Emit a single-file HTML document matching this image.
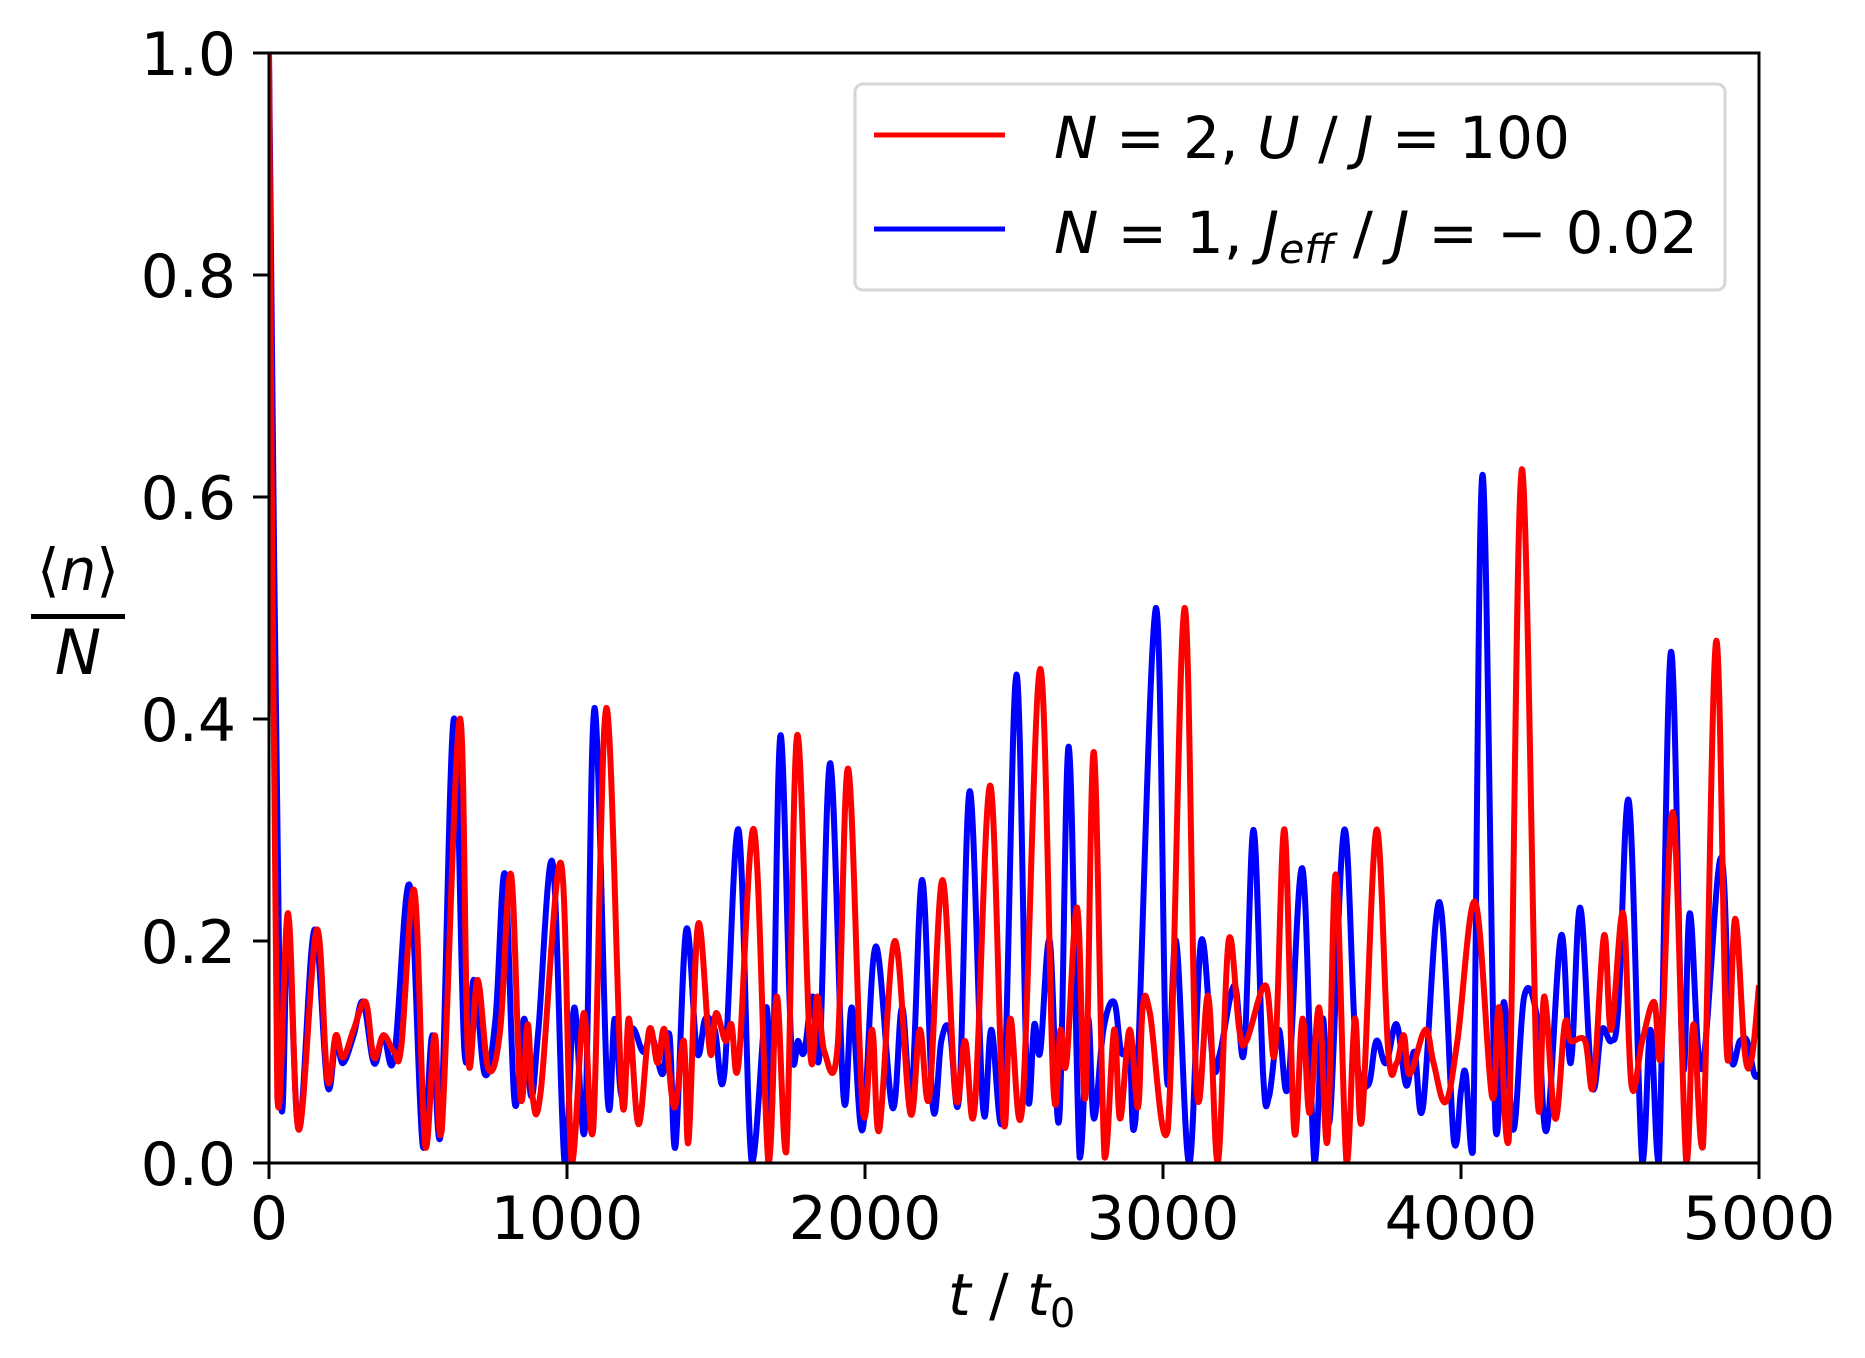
<!DOCTYPE html>
<html><head><meta charset="utf-8"><style>
html,body{margin:0;padding:0;background:#fff;}
svg{display:block;font-family:"DejaVu Sans","Liberation Sans",sans-serif;}
</style></head><body>
<svg id="chart" width="1865" height="1358" viewBox="0 0 1865 1358" xmlns="http://www.w3.org/2000/svg">
<rect width="1865" height="1358" fill="#fff"/>
<g id="series"></g>
<rect x="269" y="53" width="1490" height="1110" fill="none" stroke="#000" stroke-width="3"/>
<g id="xticks"></g>
<g id="yticks"></g>
<text x="948" y="1315" font-size="58"><tspan font-style="italic">t</tspan> / <tspan font-style="italic">t</tspan><tspan font-size="40" dy="12">0</tspan></text>
<g>
<text x="78" y="590" font-size="58" text-anchor="middle">⟨<tspan font-style="italic">n</tspan>⟩</text>
<rect x="31" y="614" width="94" height="5" fill="#000"/>
<text x="78" y="674" font-size="62" text-anchor="middle" font-style="italic">N</text>
</g>
<g>
<rect x="855" y="84" width="870" height="206" rx="8" fill="#fff" fill-opacity="0.8" stroke="#d6d6d6" stroke-width="3"/>
<g>
<line x1="874" y1="135" x2="1005" y2="135" stroke="#ff0000" stroke-width="5"/>
<text x="1054" y="158" font-size="58" textLength="516" lengthAdjust="spacingAndGlyphs"><tspan font-style="italic">N</tspan> = 2, <tspan font-style="italic">U</tspan> / <tspan font-style="italic">J</tspan> = 100</text>
</g>
<g>
<line x1="874" y1="229" x2="1005" y2="229" stroke="#0000ff" stroke-width="5"/>
<text x="1054" y="253" font-size="58" textLength="644" lengthAdjust="spacingAndGlyphs"><tspan font-style="italic">N</tspan> = 1, <tspan font-style="italic">J</tspan><tspan font-style="italic" font-size="40" dy="10">eff</tspan><tspan dy="-10"> / </tspan><tspan font-style="italic">J</tspan> = − 0.02</text>
</g>
</g>
</svg>
<script>
const xTicks=[0,1000,2000,3000,4000,5000];
const yTicks=[0,0.2,0.4,0.6,0.8,1.0];
const yTickLabels=["0.0","0.2","0.4","0.6","0.8","1.0"];
const redT=[0,28,64,100,160,196,224,248,284,324,352,384,420,444,488,524,556,580,640,668,700,736,776,812,844,868,884,912,980,1016,1056,1088,1132,1184,1208,1240,1276,1304,1328,1360,1392,1408,1440,1480,1500,1532,1552,1576,1628,1676,1704,1736,1772,1816,1840,1864,1908,1944,1992,2024,2048,2100,2152,2184,2216,2260,2304,2336,2368,2420,2464,2488,2528,2588,2632,2656,2676,2712,2740,2768,2804,2836,2856,2888,2916,2932,2956,3016,3072,3112,3152,3184,3220,3256,3280,3344,3376,3408,3440,3468,3492,3524,3552,3580,3616,3644,3668,3716,3756,3784,3808,3828,3880,3908,3948,3988,4048,4104,4128,4160,4204,4256,4280,4316,4348,4368,4416,4444,4480,4504,4544,4572,4608,4648,4672,4712,4756,4780,4812,4856,4892,4920,4952,4976,5000];
const redV=[1.0,0.06,0.225,0.03,0.21,0.075,0.115,0.095,0.12,0.145,0.095,0.115,0.1,0.105,0.245,0.015,0.115,0.03,0.40,0.095,0.165,0.085,0.12,0.26,0.06,0.125,0.06,0.065,0.27,0.0,0.135,0.03,0.41,0.06,0.13,0.035,0.12,0.09,0.12,0.05,0.11,0.02,0.215,0.1,0.135,0.11,0.125,0.09,0.30,0.0,0.15,0.01,0.385,0.1,0.15,0.1,0.105,0.355,0.05,0.12,0.03,0.2,0.045,0.12,0.06,0.255,0.06,0.11,0.05,0.34,0.04,0.13,0.05,0.445,0.07,0.12,0.09,0.23,0.06,0.37,0.005,0.12,0.04,0.12,0.05,0.14,0.135,0.03,0.50,0.07,0.15,0.0,0.2,0.12,0.11,0.16,0.1,0.3,0.03,0.13,0.045,0.14,0.02,0.26,0.0,0.13,0.04,0.30,0.1,0.09,0.115,0.08,0.12,0.09,0.055,0.11,0.235,0.06,0.14,0.02,0.625,0.06,0.15,0.04,0.125,0.11,0.11,0.07,0.205,0.12,0.225,0.07,0.11,0.145,0.1,0.315,0.0,0.125,0.015,0.47,0.1,0.22,0.1,0.095,0.16];
const blueT=[0,40,64,100,152,196,224,248,284,316,352,384,420,472,516,548,576,620,656,688,724,760,792,824,856,880,904,952,992,1024,1060,1092,1136,1160,1184,1216,1256,1284,1320,1344,1364,1400,1436,1464,1496,1528,1576,1620,1668,1688,1716,1752,1776,1796,1824,1848,1884,1928,1956,1992,2036,2092,2124,2156,2192,2228,2256,2284,2316,2352,2396,2424,2464,2508,2544,2568,2588,2620,2652,2684,2720,2748,2768,2800,2836,2860,2888,2908,2976,3012,3044,3088,3128,3168,3192,3240,3272,3304,3336,3356,3388,3420,3468,3508,3536,3560,3608,3648,3688,3716,3748,3784,3816,3844,3872,3928,3976,4000,4016,4040,4072,4116,4144,4176,4212,4256,4288,4336,4368,4400,4440,4472,4504,4528,4564,4608,4636,4664,4704,4744,4768,4808,4872,4904,4936,4960,4984,5000];
const blueV=[1.0,0.055,0.22,0.03,0.21,0.07,0.11,0.09,0.115,0.145,0.09,0.115,0.095,0.25,0.015,0.115,0.025,0.40,0.1,0.165,0.08,0.13,0.26,0.055,0.13,0.06,0.12,0.27,0.0,0.14,0.03,0.41,0.06,0.13,0.06,0.12,0.1,0.115,0.08,0.115,0.015,0.21,0.1,0.13,0.12,0.08,0.30,0.0,0.14,0.05,0.385,0.11,0.11,0.1,0.15,0.1,0.36,0.06,0.14,0.03,0.195,0.05,0.14,0.06,0.255,0.05,0.11,0.12,0.06,0.335,0.05,0.12,0.045,0.44,0.07,0.125,0.1,0.2,0.04,0.375,0.005,0.13,0.04,0.12,0.145,0.1,0.1,0.04,0.50,0.08,0.2,0.0,0.2,0.09,0.1,0.16,0.1,0.3,0.08,0.06,0.12,0.07,0.265,0.0,0.13,0.04,0.30,0.1,0.07,0.11,0.09,0.125,0.07,0.1,0.05,0.235,0.02,0.065,0.08,0.01,0.62,0.03,0.145,0.03,0.15,0.13,0.03,0.205,0.09,0.23,0.07,0.12,0.11,0.14,0.325,0.0,0.12,0.0,0.46,0.09,0.225,0.085,0.275,0.1,0.11,0.11,0.08,0.08];

const X0=269,X1=1759,Y0=1163,Y1=53;
function sx(t){return X0+(t/5000)*(X1-X0);}
function sy(v){return Y0-(v/1.0)*(Y0-Y1);}
const NS="http://www.w3.org/2000/svg";
function pathFor(T,V){
  const p=T.map((t,i)=>[sx(t),sy(V[i])]);
  let d="M"+p[0][0].toFixed(1)+","+p[0][1].toFixed(1);
  for(let i=0;i<p.length-1;i++){
    const a=p[Math.max(0,i-1)],b=p[i],c=p[i+1],e=p[Math.min(p.length-1,i+2)];
    const k=0.18;
    const c1x=b[0]+(c[0]-a[0])*k,c1y=b[1]+(c[1]-a[1])*k;
    const c2x=c[0]-(e[0]-b[0])*k,c2y=c[1]-(e[1]-b[1])*k;
    d+=" C"+c1x.toFixed(1)+","+Math.min(Y0,c1y).toFixed(1)+" "+c2x.toFixed(1)+","+Math.min(Y0,c2y).toFixed(1)+" "+c[0].toFixed(1)+","+c[1].toFixed(1);
  }
  return d;
}
const g=document.getElementById("series");
const clip=document.createElementNS(NS,"clipPath");clip.setAttribute("id","pc");
const cr=document.createElementNS(NS,"rect");cr.setAttribute("x",X0);cr.setAttribute("y",Y1);cr.setAttribute("width",X1-X0);cr.setAttribute("height",Y0-Y1);
clip.appendChild(cr);g.appendChild(clip);
[[blueT,blueV,"#0000ff","blue-line"],[redT,redV,"#ff0000","red-line"]].forEach(s=>{
  const el=document.createElementNS(NS,"path");
  el.setAttribute("d",pathFor(s[0],s[1]));
  el.setAttribute("fill","none");el.setAttribute("stroke",s[2]);el.setAttribute("stroke-width","6");
  el.setAttribute("stroke-linejoin","round");el.setAttribute("clip-path","url(#pc)");
  
  
  g.appendChild(el);
});
const xg=document.getElementById("xticks");
xTicks.forEach(t=>{
  const l=document.createElementNS(NS,"line");
  l.setAttribute("x1",sx(t));l.setAttribute("x2",sx(t));l.setAttribute("y1",Y0);l.setAttribute("y2",Y0+16);
  l.setAttribute("stroke","#000");l.setAttribute("stroke-width","3");
  
  
  xg.appendChild(l);
  const tx=document.createElementNS(NS,"text");
  tx.setAttribute("x",sx(t));tx.setAttribute("y",1239);tx.setAttribute("font-size","60");tx.setAttribute("text-anchor","middle");
  tx.textContent=String(t);
  
  
  xg.appendChild(tx);
});
const yg=document.getElementById("yticks");
yTicks.forEach((v,i)=>{
  const l=document.createElementNS(NS,"line");
  l.setAttribute("x1",X0-16);l.setAttribute("x2",X0);l.setAttribute("y1",sy(v));l.setAttribute("y2",sy(v));
  l.setAttribute("stroke","#000");l.setAttribute("stroke-width","3");
  
  
  yg.appendChild(l);
  const tx=document.createElementNS(NS,"text");
  tx.setAttribute("x",236);tx.setAttribute("y",sy(v)+22);tx.setAttribute("font-size","60");tx.setAttribute("text-anchor","end");
  tx.textContent=yTickLabels[i];
  
  
  yg.appendChild(tx);
});
</script>
</body></html>
